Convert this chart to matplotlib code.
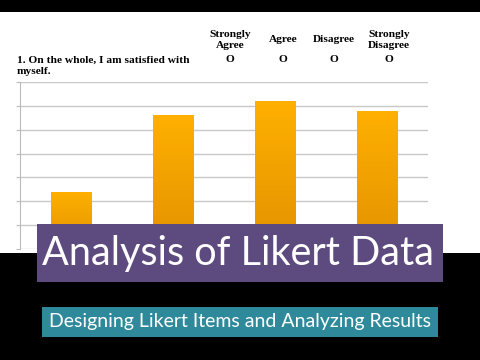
import numpy as np
import matplotlib.pyplot as plt
from matplotlib.patches import Rectangle

# survey item
question = ["1. On the whole, I am satisfied with", "myself."]
options = ["Strongly\nAgree", "Agree", "Disagree", "Strongly\nDisagree"]
counts = [2.4, 5.6, 6.2, 5.8]
yticks = [0, 1, 2, 3, 4, 5, 6, 7]

title = "Analysis of Likert Data"
subtitle = "Designing Likert Items and Analyzing Results"

W, H = 480, 360

def fx(px):
    return px / W

def fy(py):
    return 1 - py / H

fig = plt.figure(figsize=(4.8, 3.6), dpi=100, facecolor='black')

# white slide area
bg = fig.add_axes([0, fy(253), 1, fy(12) - fy(253)])
bg.set_facecolor('white')
bg.set_xticks([])
bg.set_yticks([])
for s in bg.spines.values():
    s.set_visible(False)

# bar chart
ax = fig.add_axes([fx(20), fy(249), fx(428) - fx(20), fy(82) - fy(249)])
ax.set_facecolor('none')
x = np.arange(len(counts))
bars = ax.bar(x, counts, width=0.4, color='none', zorder=3)
grad = np.linspace(0, 1, 256).reshape(-1, 1)
cmap = plt.matplotlib.colors.LinearSegmentedColormap.from_list('og', ['#E39200', '#FFB000'])
for b in bars:
    im = ax.imshow(grad, cmap=cmap, aspect='auto', origin='lower', zorder=3,
                   extent=[b.get_x(), b.get_x() + b.get_width(), 0, b.get_height()])
    im.set_clip_path(b)
ax.set_xlim(-0.5, 3.5)
ax.set_ylim(0, 7)
ax.set_yticks(yticks)
ax.set_yticklabels([])
ax.set_xticks([])
ax.tick_params(axis='y', length=3, color='#BBBBBB', direction='out')
ax.grid(axis='y', color='#C8C8C8', linewidth=1, zorder=0)
for side in ['top', 'right', 'bottom']:
    ax.spines[side].set_visible(False)
ax.spines['left'].set_color('#BBBBBB')

# question header
serif = dict(family='Liberation Serif', weight='bold', color='black')
fs = 8.2
fig.text(fx(17), fy(60), question[0], fontsize=fs, va='center', ha='left', **serif)
fig.text(fx(17), fy(72), question[1], fontsize=fs, va='center', ha='left', **serif)
opt_x = [230, 283, 334, 389]
for ox, lab in zip(opt_x, options):
    fig.text(fx(ox), fy(40), lab, fontsize=fs, ha='center', va='center',
             linespacing=1.15, **serif)
    fig.text(fx(ox), fy(60), "O", fontsize=fs, ha='center', va='center', **serif)

# title boxes
fig.patches.append(Rectangle((fx(37), fy(282)), fx(443) - fx(37), fy(224) - fy(282),
                             transform=fig.transFigure, facecolor='#5D4A7E',
                             edgecolor='none', zorder=5))
fig.text(fx(238), fy(253), title, fontsize=28.5, color='white', family='Lato',
         ha='center', va='center', zorder=6)

fig.patches.append(Rectangle((fx(42), fy(337)), fx(438) - fx(42), fy(307) - fy(337),
                             transform=fig.transFigure, facecolor='#2E8A9B',
                             edgecolor='none', zorder=5))
fig.text(fx(240), fy(322), subtitle, fontsize=14, color='white', family='Lato',
         ha='center', va='center', zorder=6)

fig.savefig('out.png', dpi=100, facecolor='black')
